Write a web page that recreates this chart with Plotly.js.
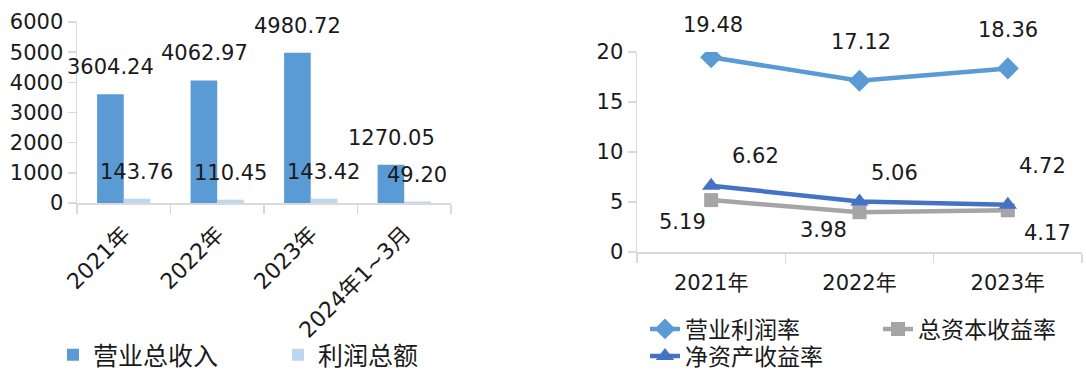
<!DOCTYPE html>
<html>
<head>
<meta charset="utf-8">
<script src="https://cdn.plot.ly/plotly-3.0.1.min.js"></script>
<style>
  html, body { margin: 0; padding: 0; background: #ffffff; }
  #chart { width: 1086px; height: 370px; }
</style>
</head>
<body>
<div id="chart"></div>
<script>
// ---- Data ----
const barCategories = ['2021年', '2022年', '2023年', '2024年1~3月'];
const revenue = [3604.24, 4062.97, 4980.72, 1270.05];
const totalProfit = [143.76, 110.45, 143.42, 49.20];

const rateCategories = ['2021年', '2022年', '2023年'];
const operatingMargin = [19.48, 17.12, 18.36];
const returnOnAssets = [5.19, 3.98, 4.17];
const returnOnEquity = [6.62, 5.06, 4.72];

const leftTicks = [0, 1000, 2000, 3000, 4000, 5000, 6000];
const rightTicks = [0, 5, 10, 15, 20];

// ---- Styling ----
const FONT = 'DejaVu Sans, "Noto Sans CJK SC", sans-serif';
const TXT = '#1a1a1a';
const AXIS = '#d9d9d9';
const C_REV = '#5b9bd5';
const C_PROFIT = '#bdd7ee';
const C_OPM = '#5b9bd5';
const C_ROA = '#a5a5a5';
const C_ROE = '#4472c4';

const traces = [
  { type: 'bar', name: '营业总收入', x: barCategories, y: revenue,
    marker: { color: C_REV }, xaxis: 'x', yaxis: 'y', legend: 'legend', hoverinfo: 'skip' },
  { type: 'bar', name: '利润总额', x: barCategories, y: totalProfit,
    marker: { color: C_PROFIT }, xaxis: 'x', yaxis: 'y', legend: 'legend', hoverinfo: 'skip' },
  { type: 'scatter', mode: 'lines+markers', name: '营业利润率', x: rateCategories, y: operatingMargin,
    line: { color: C_OPM, width: 4.5 }, marker: { symbol: 'diamond', size: 17, color: C_OPM },
    xaxis: 'x2', yaxis: 'y2', legend: 'legend2', hoverinfo: 'skip' },
  { type: 'scatter', mode: 'lines+markers', name: '总资本收益率', x: rateCategories, y: returnOnAssets,
    line: { color: C_ROA, width: 4.5 }, marker: { symbol: 'square', size: 14, color: C_ROA },
    xaxis: 'x2', yaxis: 'y2', legend: 'legend2', hoverinfo: 'skip' },
  { type: 'scatter', mode: 'lines+markers', name: '净资产收益率', x: rateCategories, y: returnOnEquity,
    line: { color: C_ROE, width: 4.5 }, marker: { symbol: 'triangle-up', size: 16, color: C_ROE },
    xaxis: 'x2', yaxis: 'y2', legend: 'legend3', hoverinfo: 'skip' }
];

// label placement (pixel shifts)
const barLabelShift = 27;
const barHalfOffset = 13;
const opmShift = [[2, 32], [1, 39], [0, 38]];
const roeShift = [[44, 30], [35, 28], [35, 39]];
const roaShift = [[-29, -22], [-36, -18], [40, -23]];

const annotations = [];
function addAnn(xref, yref, x, y, text, xs, ys, size) {
  annotations.push({ xref, yref, x, y, text, showarrow: false,
    xshift: xs, yshift: ys, xanchor: 'center', yanchor: 'middle',
    font: { family: FONT, size: size, color: TXT } });
}
revenue.forEach((v, i) => addAnn('x', 'y', barCategories[i], v, v.toFixed(2), -barHalfOffset, barLabelShift, 21));
totalProfit.forEach((v, i) => addAnn('x', 'y', barCategories[i], v, v.toFixed(2), barHalfOffset, barLabelShift, 21));
operatingMargin.forEach((v, i) => addAnn('x2', 'y2', rateCategories[i], v, v.toFixed(2), opmShift[i][0], opmShift[i][1], 21));
returnOnEquity.forEach((v, i) => addAnn('x2', 'y2', rateCategories[i], v, v.toFixed(2), roeShift[i][0], roeShift[i][1], 21));
returnOnAssets.forEach((v, i) => addAnn('x2', 'y2', rateCategories[i], v, v.toFixed(2), roaShift[i][0], roaShift[i][1], 21));

const W = 1086, H = 370;
const baseAxis = {
  showgrid: false, zeroline: false, showline: true, linecolor: AXIS, linewidth: 1.5,
  ticks: 'outside', tickcolor: AXIS, tickwidth: 1.5, ticklen: 8, automargin: false,
  tickfont: { family: FONT, size: 21, color: TXT }
};

const layout = {
  width: W, height: H,
  margin: { l: 0, r: 0, t: 0, b: 0, autoexpand: false },
  paper_bgcolor: '#ffffff', plot_bgcolor: '#ffffff',
  showlegend: true,
  barmode: 'group', bargap: 0.43, bargroupgap: 0,
  xaxis: Object.assign({}, baseAxis, {
    domain: [77 / W, 451 / W], anchor: 'y', type: 'category',
    range: [-0.5, barCategories.length - 0.5],
    tickson: 'boundaries', tickangle: -45, ticklen: 9, ticklabelstandoff: 8,
    tickfont: { family: FONT, size: 22, color: TXT }
  }),
  yaxis: Object.assign({}, baseAxis, {
    domain: [1 - 203 / H, 1 - 22 / H], anchor: 'x', range: [0, 6000],
    tickvals: leftTicks, ticklen: 8
  }),
  xaxis2: Object.assign({}, baseAxis, {
    domain: [637 / W, 1082 / W], anchor: 'y2', type: 'category',
    range: [-0.5, rateCategories.length - 0.5],
    tickson: 'boundaries', tickangle: 0, ticklen: 9, ticklabelstandoff: 11
  }),
  yaxis2: Object.assign({}, baseAxis, {
    domain: [1 - 252 / H, 1 - 52 / H], anchor: 'x2', range: [0, 20],
    tickvals: rightTicks, ticklen: 8
  }),
  legend: {
    orientation: 'h', x: 53 / W, xanchor: 'left', y: 1 - 355 / H, yanchor: 'middle',
    font: { family: FONT, size: 25, color: TXT }, bgcolor: 'rgba(0,0,0,0)',
    entrywidth: 180, traceorder: 'normal'
  },
  legend2: {
    orientation: 'h', x: 645 / W, xanchor: 'left', y: 1 - 329 / H, yanchor: 'middle',
    font: { family: FONT, size: 23, color: TXT }, bgcolor: 'rgba(0,0,0,0)',
    entrywidth: 188, traceorder: 'normal'
  },
  legend3: {
    orientation: 'h', x: 645 / W, xanchor: 'left', y: 1 - 356 / H, yanchor: 'middle',
    font: { family: FONT, size: 23, color: TXT }, bgcolor: 'rgba(0,0,0,0)'
  },
  annotations: annotations
};

Plotly.newPlot('chart', traces, layout, { staticPlot: true, displayModeBar: false });
</script>
</body>
</html>
